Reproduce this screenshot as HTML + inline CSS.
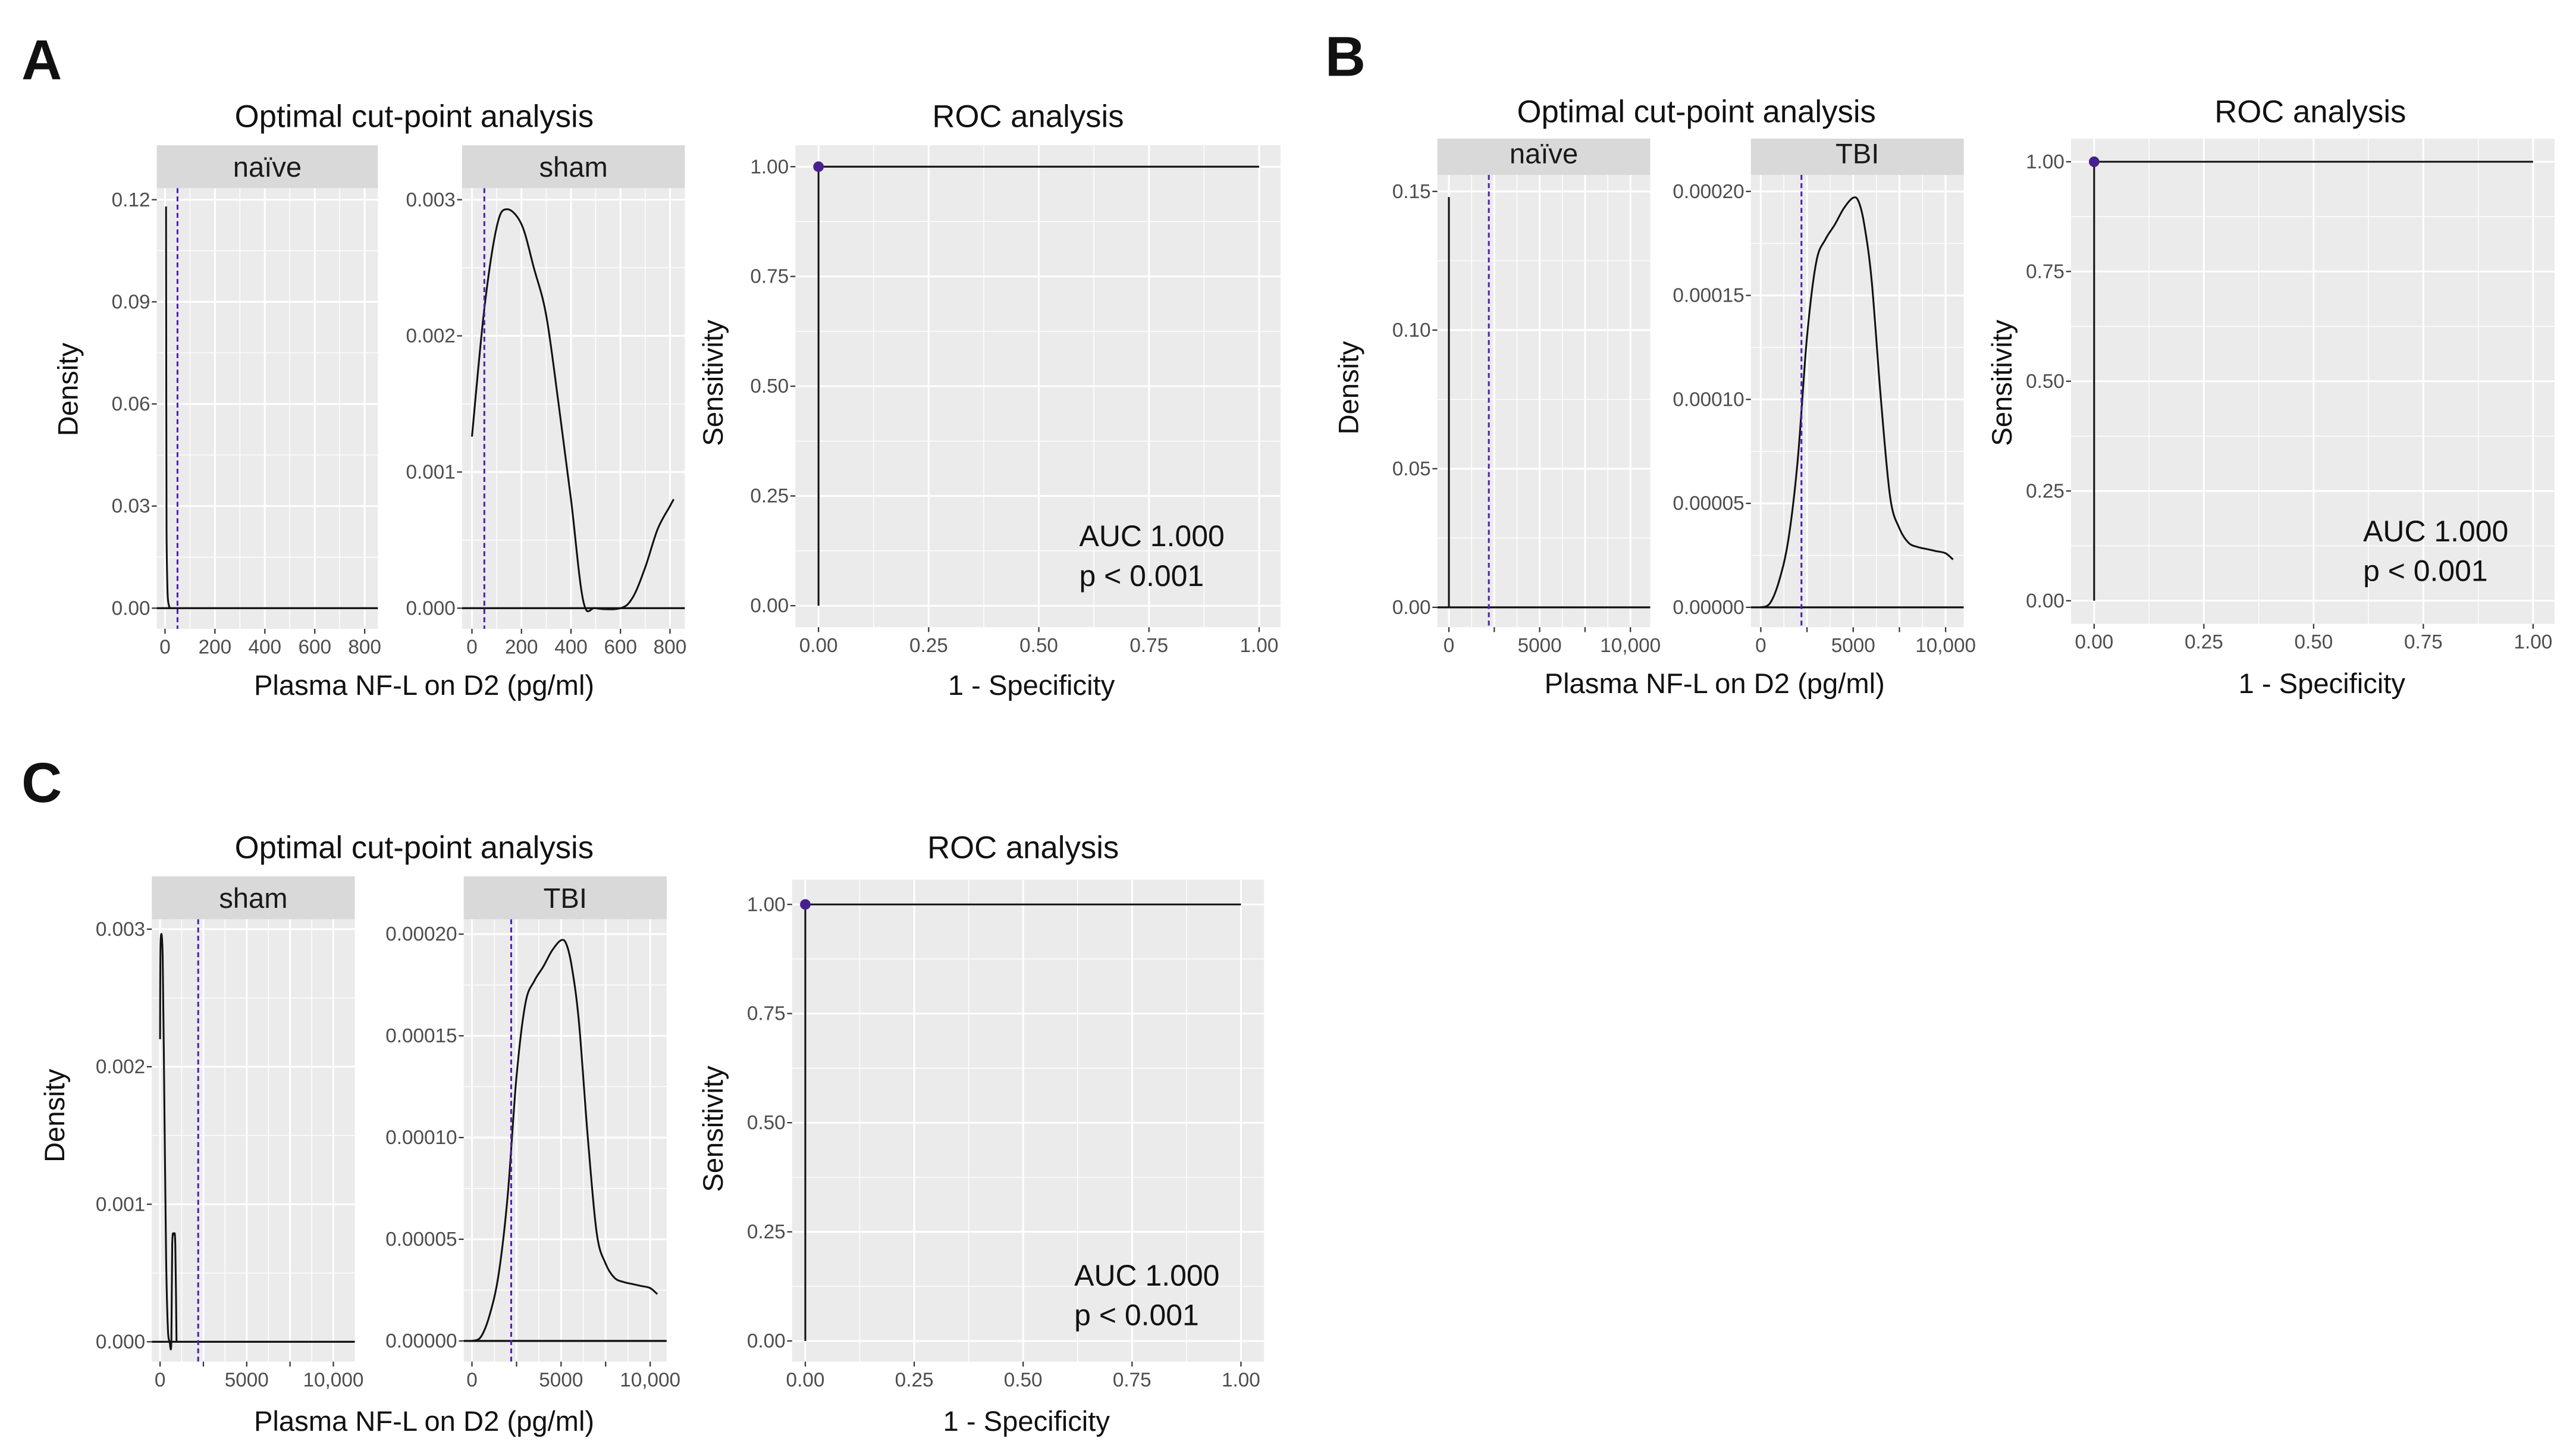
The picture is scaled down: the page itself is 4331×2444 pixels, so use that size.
<!DOCTYPE html>
<html><head><meta charset="utf-8">
<style>
html,body{margin:0;padding:0;background:#fff;}
svg{display:block;font-family:"Liberation Sans",Arial,sans-serif;}
</style></head>
<body>
<svg id="fig" width="4331" height="2444" viewBox="0 0 1561 881" preserveAspectRatio="none" xmlns="http://www.w3.org/2000/svg">
<rect x="0" y="0" width="1561" height="881" fill="#fff"/>
<g font-weight="bold" font-size="34" fill="#111">
<text x="13" y="48">A</text>
<text x="803" y="46">B</text>
<text x="13" y="486">C</text>
</g>
<g font-size="19" fill="#111" text-anchor="middle">
<text x="251" y="77">Optimal cut-point analysis</text>
<text x="623" y="77">ROC analysis</text>
<text x="1028" y="74">Optimal cut-point analysis</text>
<text x="1400" y="74">ROC analysis</text>
<text x="251" y="520">Optimal cut-point analysis</text>
<text x="620" y="520">ROC analysis</text>
</g>
<g font-size="17" fill="#111" text-anchor="middle">
<text x="257" y="421">Plasma NF-L on D2 (pg/ml)</text>
<text x="625" y="421">1 - Specificity</text>
<text x="1039" y="420">Plasma NF-L on D2 (pg/ml)</text>
<text x="1407" y="420">1 - Specificity</text>
<text x="257" y="867">Plasma NF-L on D2 (pg/ml)</text>
<text x="622" y="867">1 - Specificity</text>
<text transform="translate(47,236) rotate(-90)">Density</text>
<text transform="translate(438,232) rotate(-90)">Sensitivity</text>
<text transform="translate(823,235) rotate(-90)">Density</text>
<text transform="translate(1219,232) rotate(-90)">Sensitivity</text>
<text transform="translate(39,676) rotate(-90)">Density</text>
<text transform="translate(438,684) rotate(-90)">Sensitivity</text>
</g>
<g id="plots"></g>
</svg>
<script>
// ---- data ----
const naiveA_x = [4, 5, 6, 10, 15, 20];
const naiveA_y = [0.118, 0.06, 0.023, 0.005, 0.001, 0];
const shamA_x = [0, 50, 100, 140, 200, 250, 300, 350, 400, 450, 500, 600, 650, 700, 750, 800, 815];
const shamA_y = [0.00126, 0.0022, 0.0028, 0.00293, 0.00282, 0.0025, 0.00215, 0.0015, 0.0008, 0.00005, 0, 0, 0.00008, 0.0003, 0.00058, 0.00075, 0.0008];
const naiveB_x = [0, 0];
const naiveB_y = [0.148, 0];
const tbi_x = [0, 500, 1000, 1500, 2000, 2500, 3000, 3500, 4000, 4500, 5000, 5300, 5600, 6000, 6500, 7000, 7500, 8000, 8500, 9000, 9500, 10000, 10400];
const tbi_y = [0, 0.000002, 0.000013, 0.000033, 0.000071, 0.00013, 0.000166, 0.000177, 0.000184, 0.000192, 0.000197, 0.000195, 0.000184, 0.000157, 0.0001, 0.000053, 0.000038, 0.000031, 0.000029, 0.000028, 0.000027, 0.000026, 0.000023];
const shamC_x = [0, 30, 150, 250, 350, 450, 550, 650, 700, 800, 880, 950];
const shamC_y = [0.0022, 0.0029, 0.0028, 0.0017, 0.0006, 0.0001, 0, 0, 0.0007, 0.00078, 0.0007, 0];
const roc_fpr = [0, 0, 1];
const roc_tpr = [0, 1, 1];
const cutA = 50;
const cutBC = 2200;
const aucLabel = "AUC 1.000";
const pLabel = "p < 0.001";
const yTicksNaiveA = [0, 0.03, 0.06, 0.09, 0.12];
const yLabelsNaiveA = ["0.00", "0.03", "0.06", "0.09", "0.12"];
const yTicksSham = [0, 0.001, 0.002, 0.003];
const yLabelsSham = ["0.000", "0.001", "0.002", "0.003"];
const yTicksNaiveB = [0, 0.05, 0.10, 0.15];
const yLabelsNaiveB = ["0.00", "0.05", "0.10", "0.15"];
const yTicksTBI = [0, 0.00005, 0.0001, 0.00015, 0.0002];
const yLabelsTBI = ["0.00000", "0.00005", "0.00010", "0.00015", "0.00020"];
const xTicks800 = [0, 200, 400, 600, 800];
const xLabels800 = ["0", "200", "400", "600", "800"];
const xTicks10k = [0, 2500, 5000, 7500, 10000];
const xLabels10k = ["0", "", "5000", "", "10,000"];
const rocTicks = [0, 0.25, 0.5, 0.75, 1];
const rocLabels = ["0.00", "0.25", "0.50", "0.75", "1.00"];

const NS = "http://www.w3.org/2000/svg";
const root = document.getElementById("plots");
function mk(tag, attrs, parent) {
  const e = document.createElementNS(NS, tag);
  for (const k in attrs) e.setAttribute(k, attrs[k]);
  parent.appendChild(e);
  return e;
}
function scale(v0, p0, v1, p1) { return v => p0 + (v - v0) * (p1 - p0) / (v1 - v0); }
function smoothPath(pts) {
  if (pts.length < 3) return pts.map((p, i) => (i ? "L" : "M") + p[0].toFixed(2) + "," + p[1].toFixed(2)).join(" ");
  let d = "M" + pts[0][0].toFixed(2) + "," + pts[0][1].toFixed(2);
  for (let i = 0; i < pts.length - 1; i++) {
    const p0 = pts[Math.max(0, i - 1)], p1 = pts[i], p2 = pts[i + 1], p3 = pts[Math.min(pts.length - 1, i + 2)];
    const c1x = p1[0] + (p2[0] - p0[0]) / 6, c1y = p1[1] + (p2[1] - p0[1]) / 6;
    const c2x = p2[0] - (p3[0] - p1[0]) / 6, c2y = p2[1] - (p3[1] - p1[1]) / 6;
    d += " C" + c1x.toFixed(2) + "," + c1y.toFixed(2) + " " + c2x.toFixed(2) + "," + c2y.toFixed(2) + " " + p2[0].toFixed(2) + "," + p2[1].toFixed(2);
  }
  return d;
}

function panel(c) {
  const g = mk("g", {}, root);
  
  
  const sx = scale(c.xm[0], c.xm[1], c.xm[2], c.xm[3]);
  const sy = scale(c.ym[0], c.ym[1], c.ym[2], c.ym[3]);
  const bg = mk("rect", {x: c.L, y: c.T, width: c.R - c.L, height: c.B - c.T, fill: "#EBEBEB"}, g);
  
  
  const xt = c.xt, yt = c.yt;
  const xstep = xt[1] - xt[0], ystep = yt[1] - yt[0];
  for (let i = -1; i < xt.length; i++) {
    const v = xt[0] + (i + 0.5) * xstep, p = sx(v);
    if (p > c.L && p < c.R) mk("line", {x1: p, x2: p, y1: c.T, y2: c.B, stroke: "#fff", "stroke-width": 0.5}, g);
  }
  for (let i = -1; i < yt.length; i++) {
    const v = yt[0] + (i + 0.5) * ystep, p = sy(v);
    if (p > c.T && p < c.B) mk("line", {x1: c.L, x2: c.R, y1: p, y2: p, stroke: "#fff", "stroke-width": 0.5}, g);
  }
  xt.forEach((v, i) => {
    const p = sx(v);
    mk("line", {x1: p, x2: p, y1: c.T, y2: c.B, stroke: "#fff", "stroke-width": 1.1}, g);
    mk("line", {x1: p, x2: p, y1: c.B, y2: c.B + 3, stroke: "#333", "stroke-width": 0.8}, g);
    if (c.xl[i] !== "") {
      const t = mk("text", {x: p, y: c.B + 15, "font-size": 12, fill: "#4d4d4d", "text-anchor": "middle"}, g);
      t.textContent = c.xl[i];
      
      
    }
  });
  yt.forEach((v, i) => {
    const p = sy(v);
    mk("line", {x1: c.L, x2: c.R, y1: p, y2: p, stroke: "#fff", "stroke-width": 1.1}, g);
    mk("line", {x1: c.L - 3, x2: c.L, y1: p, y2: p, stroke: "#333", "stroke-width": 0.8}, g);
    const t = mk("text", {x: c.L - 4, y: p + 4, "font-size": 12, fill: "#4d4d4d", "text-anchor": "end"}, g);
    t.textContent = c.yl[i];
    
    
  });
  if (c.strip) {
    const s = mk("rect", {x: c.L, y: c.sT, width: c.R - c.L, height: c.T - c.sT, fill: "#D9D9D9"}, g);
    
    
    const st = mk("text", {x: (c.L + c.R) / 2, y: c.T - 7, "font-size": 17, fill: "#1a1a1a", "text-anchor": "middle"}, g);
    st.textContent = c.strip;
    
    
  }
  const clipId = "clip" + c.name;
  const cp = mk("clipPath", {id: clipId}, g);
  mk("rect", {x: c.L, y: c.T, width: c.R - c.L, height: c.B - c.T}, cp);
  const pg = mk("g", {"clip-path": "url(#" + clipId + ")"}, g);
  if (c.density) {
    const base = mk("line", {x1: c.L, x2: c.R, y1: sy(0), y2: sy(0), stroke: "#111", "stroke-width": 1.2}, pg);
    
    
    const pts = c.dx.map((v, i) => [sx(v), sy(c.dy[i])]);
    const path = mk("path", {d: smoothPath(pts), fill: "none", stroke: "#111", "stroke-width": 1.1}, pg);
    
    
    const cx = sx(c.cut);
    const cut = mk("line", {x1: cx, x2: cx, y1: c.T, y2: c.B, stroke: "#4B22B0", "stroke-width": 1.1, "stroke-dasharray": "3,2"}, pg);
    
    
  } else {
    const d = roc_fpr.map((v, i) => (i ? "L" : "M") + sx(v).toFixed(2) + "," + sy(roc_tpr[i]).toFixed(2)).join(" ");
    const path = mk("path", {d: d, fill: "none", stroke: "#111", "stroke-width": 1.1}, pg);
    
    
    const pt = mk("circle", {cx: sx(roc_fpr[1]), cy: sy(roc_tpr[1]), r: 3.2, fill: "#47208F"}, g);
    
    
    const a = mk("text", {x: c.aucX, y: c.aucY, "font-size": 18, fill: "#111"}, g);
    a.textContent = aucLabel;
    
    
    const p = mk("text", {x: c.aucX, y: c.aucY + 24, "font-size": 18, fill: "#111"}, g);
    p.textContent = pLabel;
    
    
  }
}

panel({name: "a-naive-density", L: 95, T: 114, R: 229, B: 381, sT: 88, strip: "naïve", xm: [0, 100, 800, 221], ym: [0, 368.5, 0.12, 121], xt: xTicks800, xl: xLabels800, yt: yTicksNaiveA, yl: yLabelsNaiveA, density: true, dx: naiveA_x, dy: naiveA_y, cut: cutA});
panel({name: "a-sham-density", L: 280, T: 114, R: 415, B: 381, sT: 88, strip: "sham", xm: [0, 286, 800, 406], ym: [0, 368.5, 0.003, 121], xt: xTicks800, xl: xLabels800, yt: yTicksSham, yl: yLabelsSham, density: true, dx: shamA_x, dy: shamA_y, cut: cutA});
panel({name: "a-roc", L: 482, T: 88, R: 776, B: 380, xm: [0, 496, 1, 763], ym: [0, 367, 1, 101], xt: rocTicks, xl: rocLabels, yt: rocTicks, yl: rocLabels, density: false, aucX: 654, aucY: 331});
panel({name: "b-naive-density", L: 871, T: 106, R: 1000, B: 380, sT: 84, strip: "naïve", xm: [0, 878, 10000, 988], ym: [0, 368, 0.15, 116], xt: xTicks10k, xl: xLabels10k, yt: yTicksNaiveB, yl: yLabelsNaiveB, density: true, dx: naiveB_x, dy: naiveB_y, cut: cutBC});
panel({name: "b-tbi-density", L: 1061, T: 106, R: 1190, B: 380, sT: 84, strip: "TBI", xm: [0, 1067, 10000, 1179], ym: [0, 368, 0.0002, 116], xt: xTicks10k, xl: xLabels10k, yt: yTicksTBI, yl: yLabelsTBI, density: true, dx: tbi_x, dy: tbi_y, cut: cutBC});
panel({name: "b-roc", L: 1255, T: 84, R: 1548, B: 378, xm: [0, 1269, 1, 1535], ym: [0, 364, 1, 98], xt: rocTicks, xl: rocLabels, yt: rocTicks, yl: rocLabels, density: false, aucX: 1432, aucY: 328});
panel({name: "c-sham-density", L: 92, T: 557, R: 215, B: 825, sT: 531, strip: "sham", xm: [0, 97, 10000, 202], ym: [0, 813, 0.003, 563], xt: xTicks10k, xl: xLabels10k, yt: yTicksSham, yl: yLabelsSham, density: true, dx: shamC_x, dy: shamC_y, cut: cutBC});
panel({name: "c-tbi-density", L: 281, T: 557, R: 404, B: 825, sT: 531, strip: "TBI", xm: [0, 286, 10000, 394], ym: [0, 812.5, 0.0002, 566], xt: xTicks10k, xl: xLabels10k, yt: yTicksTBI, yl: yLabelsTBI, density: true, dx: tbi_x, dy: tbi_y, cut: cutBC});
panel({name: "c-roc", L: 480, T: 533, R: 766, B: 825, xm: [0, 488, 1, 752], ym: [0, 812.5, 1, 548], xt: rocTicks, xl: rocLabels, yt: rocTicks, yl: rocLabels, density: false, aucX: 651, aucY: 779});
</script>
</body></html>
